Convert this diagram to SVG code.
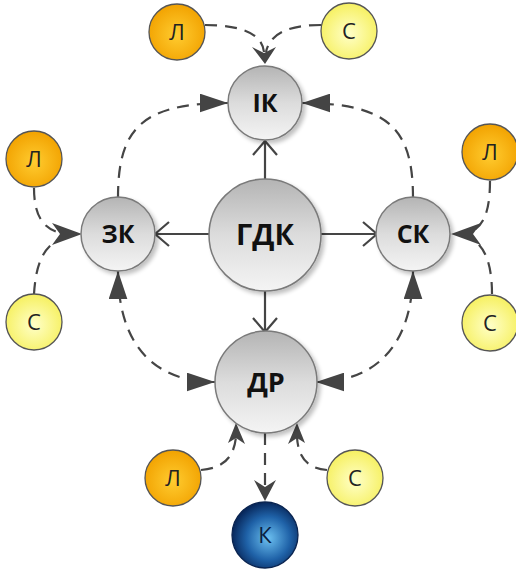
<svg xmlns="http://www.w3.org/2000/svg" width="516" height="570" viewBox="0 0 516 570">
<defs>
<linearGradient id="gGray" x1="0" y1="0" x2="0" y2="1">
<stop offset="0" stop-color="#b4b4b4"/>
<stop offset="0.5" stop-color="#dcdcdc"/>
<stop offset="1" stop-color="#f4f4f4"/>
</linearGradient>
<radialGradient id="gOrange" cx="0.5" cy="0.55" r="0.55">
<stop offset="0" stop-color="#ffcc30"/>
<stop offset="1" stop-color="#f2a200"/>
</radialGradient>
<radialGradient id="gYellow" cx="0.5" cy="0.55" r="0.55">
<stop offset="0" stop-color="#ffffc8"/>
<stop offset="1" stop-color="#f6f060"/>
</radialGradient>
<radialGradient id="gBlue" cx="0.55" cy="0.55" r="0.55">
<stop offset="0" stop-color="#6cc0f0"/>
<stop offset="0.6" stop-color="#1f62a8"/>
<stop offset="1" stop-color="#08285c"/>
</radialGradient>
<filter id="sh" x="-20%" y="-20%" width="150%" height="150%">
<feGaussianBlur in="SourceAlpha" stdDeviation="2"/>
<feOffset dx="3" dy="3"/>
<feComponentTransfer><feFuncA type="linear" slope="0.25"/></feComponentTransfer>
<feMerge><feMergeNode/><feMergeNode in="SourceGraphic"/></feMerge>
</filter>
<marker id="tri" viewBox="0 0 30 20" refX="30" refY="10" markerWidth="28" markerHeight="19" markerUnits="userSpaceOnUse" orient="auto-start-reverse">
<path d="M0,0 L30,10 L0,20 Z" fill="#444"/>
</marker>
<marker id="open" viewBox="0 0 16 26" refX="15" refY="13" markerWidth="16" markerHeight="26" markerUnits="userSpaceOnUse" orient="auto">
<path d="M1,1 L15,13 L1,25" fill="none" stroke="#444" stroke-width="2.2"/>
</marker>
</defs>
<style>
.dash{fill:none;stroke:#454545;stroke-width:2.2;stroke-dasharray:12 8}
.solid{fill:none;stroke:#454545;stroke-width:2.2}
.gray{fill:url(#gGray);stroke:#7a7a7a;stroke-width:1.5}
.or{fill:url(#gOrange);stroke:#555;stroke-width:1.3}
.ye{fill:url(#gYellow);stroke:#555;stroke-width:1.3}
.bl{fill:url(#gBlue);stroke:#0a2450;stroke-width:1.3}
.big{font-family:"Open Sans","Liberation Sans",sans-serif;font-weight:bold;fill:#111;text-anchor:middle}
.sm{font-family:"Open Sans","Liberation Sans",sans-serif;font-size:22px;fill:#222;text-anchor:middle}
.ah{fill:#444}
</style>

<g id="connectors">
<path class="solid" d="M265,179 L265,141" marker-end="url(#open)"/>
<path class="solid" d="M209,234 L155,234" marker-end="url(#open)"/>
<path class="solid" d="M321,234 L377,234" marker-end="url(#open)"/>
<path class="solid" d="M265,291 L265,332" marker-end="url(#open)"/>
<path class="dash" d="M265,433 L265,488"/>
<path class="ah" d="M254,480 L265,501 L276,480 L265,487 Z"/>
<path class="dash" d="M118,198 C118,130 140,103 228,103" marker-end="url(#tri)"/>
<path class="dash" d="M413,198 C413,130 390,103 302,103" marker-end="url(#tri)"/>
<path class="dash" d="M118,271 C118,340 150,382 215,382" marker-start="url(#tri)" marker-end="url(#tri)"/>
<path class="dash" d="M413,271 C413,340 380,382 316,382" marker-start="url(#tri)" marker-end="url(#tri)"/>
<path class="dash" d="M205,25 C240,25 262,33 264,52"/>
<path class="dash" d="M321,25 C290,25 270,33 266,52"/>
<path class="ah" d="M252,47 L265,64 L276,47 L264,53 Z"/>
<path class="dash" d="M34,188 C34,222 48,233 70,234"/>
<path class="dash" d="M34,294 C36,262 44,242 70,235"/>
<path class="ah" d="M52,223 L82,234 L52,245 L60,234 Z"/>
<path class="dash" d="M490,181 C490,215 482,232 462,234"/>
<path class="dash" d="M492,294 C492,262 484,240 462,235"/>
<path class="ah" d="M481,223 L451,234 L481,245 L473,234 Z"/>
<path class="dash" d="M201,470 C226,468 234,455 236,437"/>
<path class="dash" d="M327,470 C305,468 298,455 297,437"/>
<path class="ah" d="M228,443 L236,423 L245,444 L236,438 Z"/>
<path class="ah" d="M288,444 L297,423 L305,443 L297,438 Z"/>
</g>

<g id="n-gdk"><circle class="gray" cx="265" cy="235" r="56" filter="url(#sh)"/><text class="big" x="265" y="245" font-size="29">ГДК</text></g>
<g id="n-ik"><circle class="gray" cx="265" cy="103" r="37" filter="url(#sh)"/><text class="big" x="265" y="112" font-size="25">ІК</text></g>
<g id="n-zk"><circle class="gray" cx="118" cy="234" r="37" filter="url(#sh)"/><text class="big" x="118" y="243" font-size="25">ЗК</text></g>
<g id="n-sk"><circle class="gray" cx="413" cy="234" r="37" filter="url(#sh)"/><text class="big" x="413" y="243" font-size="25">СК</text></g>
<g id="n-dr"><circle class="gray" cx="266" cy="382" r="51" filter="url(#sh)"/><text class="big" x="266" y="392" font-size="27">ДР</text></g>
<g id="n-k"><circle class="bl" cx="265" cy="535" r="33"/><text class="sm" x="265" y="543" style="fill:#0a2040">К</text></g>

<g id="n-l-top"><circle class="or" cx="177" cy="32" r="28"/><text class="sm" x="177" y="40">Л</text></g>
<g id="n-s-top"><circle class="ye" cx="349" cy="31" r="28"/><text class="sm" x="349" y="39">С</text></g>
<g id="n-l-left"><circle class="or" cx="34" cy="159" r="28"/><text class="sm" x="34" y="167">Л</text></g>
<g id="n-s-left"><circle class="ye" cx="34" cy="322" r="28"/><text class="sm" x="34" y="330">С</text></g>
<g id="n-l-right"><circle class="or" cx="490" cy="152" r="28"/><text class="sm" x="490" y="160">Л</text></g>
<g id="n-s-right"><circle class="ye" cx="490" cy="323" r="28"/><text class="sm" x="490" y="331">С</text></g>
<g id="n-l-bottom"><circle class="or" cx="173" cy="478" r="28"/><text class="sm" x="173" y="486">Л</text></g>
<g id="n-s-bottom"><circle class="ye" cx="355" cy="478" r="28"/><text class="sm" x="355" y="486">С</text></g>
</svg>
